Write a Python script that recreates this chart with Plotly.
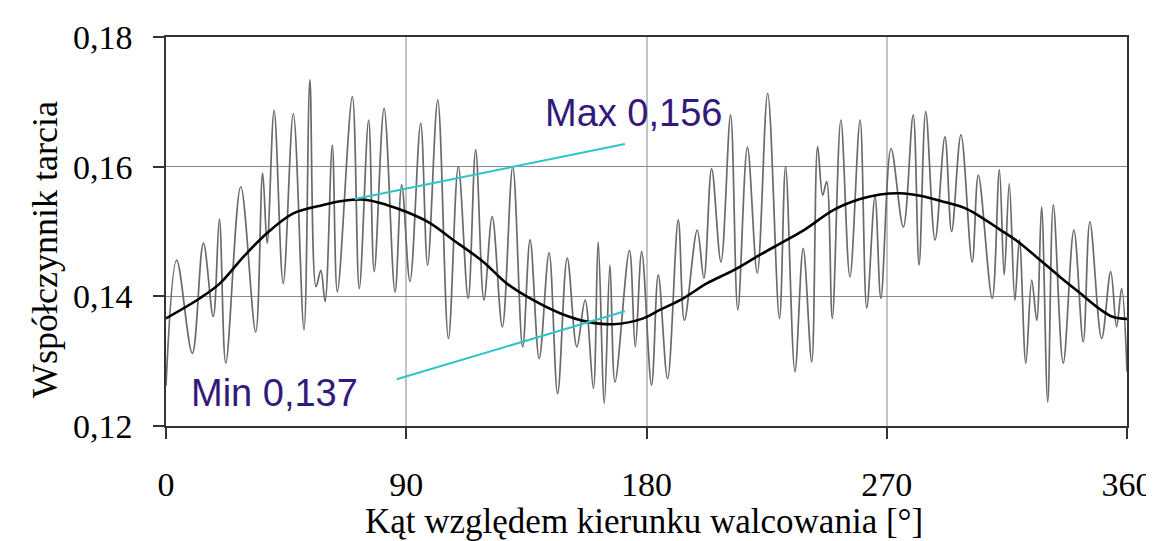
import plotly.graph_objects as go

# Measured friction coefficient (grey oscillating line): angle [deg], value
angle_meas = [0, 4.0, 9.85, 14.0, 17.7, 20.0, 22.4, 28.0, 33.6, 36.2, 37.9, 40.5, 43.9, 47.7, 51.7, 53.9,
              56.2, 58.0, 59.6, 62.3, 64.2, 69.8, 72.4, 75.9, 78.0, 81.7, 85.8, 88.3, 91.4, 95.4, 98.0,
              101.8, 105.8, 109.5, 113.2, 116.0, 119.1, 122.2, 126.0, 129.9, 133.6, 136.4, 139.8, 143.5,
              146.7, 150.3, 153.9, 157.0, 160.1, 161.9, 164.2, 166.3, 168.2, 173.6, 175.8, 178.2, 181.9,
              184.4, 187.9, 191.9, 194.2, 199.0, 201.5, 204.4, 207.9, 211.5, 214.2, 217.8, 221.5, 225.4,
              229.8, 232.1, 235.6, 238.7, 241.9, 244.1, 246.0, 247.5, 249.6, 252.8, 256.2, 260.0, 262.5,
              265.6, 267.8, 271.6, 276.2, 279.9, 282.1, 284.6, 288.1, 291.8, 294.3, 297.8, 302.0, 304.3,
              309.5, 312.2, 314.0, 315.9, 318.0, 319.7, 322.1, 324.3, 326.2, 328.0, 330.3, 332.4, 336.1,
              340.1, 343.6, 346.1, 350.5, 353.9, 356.1, 358.0, 360]
value_meas = [0.1262, 0.1456, 0.1312, 0.1482, 0.1369, 0.1519, 0.1297, 0.1569, 0.1345, 0.1590, 0.1482,
              0.1687, 0.1420, 0.1682, 0.1348, 0.1734, 0.1415, 0.1440, 0.1392, 0.1633, 0.1407, 0.1708,
              0.1412, 0.1672, 0.1438, 0.1690, 0.1407, 0.1572, 0.1423, 0.1667, 0.1448, 0.1703, 0.1335,
              0.1600, 0.1397, 0.1626, 0.1394, 0.1523, 0.1353, 0.1600, 0.1322, 0.1487, 0.1304, 0.1467,
              0.1250, 0.1459, 0.1322, 0.1394, 0.1258, 0.1484, 0.1235, 0.1448, 0.1268, 0.1471, 0.1322,
              0.1469, 0.1263, 0.1433, 0.1273, 0.1518, 0.1363, 0.1502, 0.1428, 0.1597, 0.1453, 0.1680,
              0.1379, 0.1630, 0.1436, 0.1713, 0.1366, 0.1600, 0.1284, 0.1474, 0.1299, 0.1631, 0.1556,
              0.1577, 0.1366, 0.1672, 0.1430, 0.1672, 0.1382, 0.1554, 0.1397, 0.1628, 0.1507, 0.1680,
              0.1448, 0.1685, 0.1487, 0.1646, 0.1500, 0.1649, 0.1453, 0.1587, 0.1397, 0.1595, 0.1433,
              0.1574, 0.1394, 0.1487, 0.1297, 0.1425, 0.1363, 0.1538, 0.1237, 0.1541, 0.1297, 0.1502,
              0.1330, 0.1515, 0.1335, 0.1438, 0.1353, 0.1412, 0.1284]

# Smoothed curve (black)
angle_fit = [0, 12.7, 20.2, 29.0, 37.7, 47.7, 58.9, 66.0, 74.5, 82.7, 90.2, 98.9, 107.6, 118.9, 127.6,
             137.6, 147.6, 157.6, 167.6, 178.8, 185.0, 193.8, 202.6, 212.5, 222.5, 231.2, 239.3, 250.0,
             260.0, 267.5, 275.0, 282.5, 291.2, 299.3, 305.0, 312.4, 319.9, 327.4, 334.9, 342.4, 349.9,
             354.9, 360]
value_fit = [0.1366, 0.1397, 0.1420, 0.1461, 0.1497, 0.1528, 0.1541, 0.1547, 0.1549, 0.1541, 0.1530,
             0.1513, 0.1487, 0.1453, 0.1420, 0.1394, 0.1374, 0.1361, 0.1357, 0.1366, 0.1379, 0.1397,
             0.1420, 0.1440, 0.1464, 0.1484, 0.1503, 0.1533, 0.1550, 0.1557, 0.1559, 0.1555, 0.1546,
             0.1536, 0.1523, 0.1503, 0.1482, 0.1456, 0.1430, 0.1405, 0.1380, 0.1368, 0.1365]

# Pointer lines and labels
max_line_x = [70.8, 171.9]
max_line_y = [0.1550, 0.1635]
min_line_x = [86.4, 171.9]
min_line_y = [0.1272, 0.1377]
label_max = "Max 0,156"
label_min = "Min 0,137"

x_ticks = [0, 90, 180, 270, 360]
y_ticks = [0.12, 0.14, 0.16, 0.18]
y_tick_text = ["0,12", "0,14", "0,16", "0,18"]

serif = "Liberation Serif, Times New Roman, serif"
sans = "Liberation Sans, Arial, sans-serif"
label_color = "#34197c"
cyan = "#2ec4c8"

fig = go.Figure()
fig.add_trace(go.Scatter(x=angle_meas, y=value_meas, mode="lines",
                         line=dict(color="#6a6a6a", width=1.7, shape="spline", smoothing=1.0),
                         showlegend=False, hoverinfo="skip"))
fig.add_trace(go.Scatter(x=angle_fit, y=value_fit, mode="lines",
                         line=dict(color="#000000", width=2.6, shape="spline", smoothing=1.0),
                         showlegend=False))
fig.add_trace(go.Scatter(x=max_line_x, y=max_line_y, mode="lines",
                         line=dict(color=cyan, width=2), showlegend=False))
fig.add_trace(go.Scatter(x=min_line_x, y=min_line_y, mode="lines",
                         line=dict(color=cyan, width=2), showlegend=False))

fig.add_annotation(x=141.2, y=0.1683, text=label_max, showarrow=False, xanchor="left", yanchor="middle",
                   font=dict(family=sans, size=38, color=label_color))
fig.add_annotation(x=8.6, y=0.1251, text=label_min, showarrow=False, xanchor="left", yanchor="middle",
                   font=dict(family=sans, size=38, color=label_color))

fig.add_annotation(xref="paper", yref="paper", x=-0.126, y=0.455, text="Współczynnik tarcia",
                   textangle=-90, showarrow=False, xanchor="center", yanchor="middle",
                   font=dict(family=serif, size=36, color="#000"))
fig.add_annotation(xref="paper", yref="paper", x=0.497, y=-0.245, text="Kąt względem kierunku walcowania [°]",
                   showarrow=False, xanchor="center", yanchor="middle",
                   font=dict(family=serif, size=35, color="#000"))

# The page adds an 8px body margin, so the figure is offset by (8, 8) in the window.
fig.update_layout(
    width=1154, height=541,
    margin=dict(l=158, r=35, t=29, b=123, autoexpand=False),
    paper_bgcolor="white", plot_bgcolor="white",
    font=dict(family=serif, size=34, color="#000"),
)
fig.update_xaxes(range=[0, 360], tickvals=x_ticks, ticks="outside", ticklen=11, tickwidth=1.5,
                 tickcolor="#333", showline=True, linecolor="#333", linewidth=1.5, mirror=True,
                 showgrid=True, gridcolor="#c4c4c4", gridwidth=2, zeroline=False, automargin=False,
                 ticklabelstandoff=16, tickfont=dict(family=serif, size=34))
fig.update_yaxes(range=[0.12, 0.18], tickvals=y_ticks, ticktext=y_tick_text, ticks="outside", ticklen=11,
                 tickwidth=1.5, tickcolor="#333", showline=True, linecolor="#333", linewidth=1.5, mirror=True,
                 showgrid=True, gridcolor="#8a8a8a", gridwidth=1, zeroline=False, automargin=False,
                 ticklabelstandoff=14, tickfont=dict(family=serif, size=34))

fig.write_html("out.html")
